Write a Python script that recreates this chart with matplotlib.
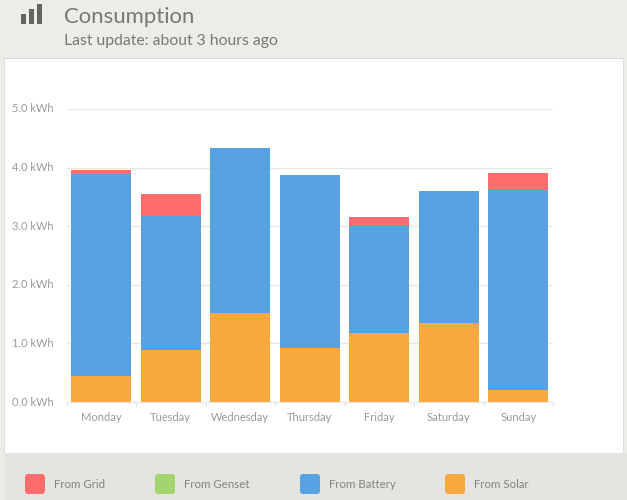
import matplotlib
matplotlib.use('Agg')
import matplotlib.pyplot as plt
from matplotlib.patches import Rectangle, FancyBboxPatch
from matplotlib.transforms import ScaledTranslation
import numpy as np

days = ['Monday', 'Tuesday', 'Wednesday', 'Thursday', 'Friday', 'Saturday', 'Sunday']
from_solar = [0.44, 0.89, 1.52, 0.92, 1.18, 1.35, 0.20]
from_battery = [3.45, 2.28, 2.81, 2.95, 1.82, 2.25, 3.41]
from_genset = [0, 0, 0, 0, 0, 0, 0]
from_grid = [0.07, 0.38, 0, 0, 0.16, 0, 0.30]
y_ticks = [0, 1, 2, 3, 4, 5]
legend_names = ['From Grid', 'From Genset', 'From Battery', 'From Solar']
legend_colors = ['#fe6d6d', '#a2d470', '#58a2e1', '#f8a93e']

W, H = 627, 500
plt.rcParams['font.family'] = ['Lato', 'DejaVu Sans']

fig = plt.figure(figsize=(W / 100, H / 100), dpi=100, facecolor='#eeece9')


def px_rect(x0, y0, x1, y1, **kw):
    # pixel coords, y from the top
    r = Rectangle((x0 / W, 1 - y1 / H), (x1 - x0) / W, (y1 - y0) / H,
                  transform=fig.transFigure, **kw)
    fig.add_artist(r)


def px_text(x, y, s, **kw):
    fig.text(x / W, 1 - y / H, s, va='center', **kw)


# panels
px_rect(4, 57.5, 624, 454, facecolor='#dddbd8', edgecolor='none', zorder=0)
px_rect(5, 58.5, 623, 453, facecolor='white', edgecolor='none', zorder=0)
px_rect(5, 453, 627, 500, facecolor='#e5e4e1', edgecolor='none', zorder=0)

# header
px_rect(21, 14, 26, 24, facecolor='#66645f', edgecolor='none')
px_rect(28.5, 9, 33.5, 24, facecolor='#66645f', edgecolor='none')
px_rect(37, 4, 42, 24, facecolor='#66645f', edgecolor='none')
px_text(64, 17, 'Consumption', fontsize=15.9, color='#7a7874')
px_text(64, 41.5, 'Last update: about 3 hours ago', fontsize=11.3, color='#7a7874')

# chart
ax = fig.add_axes([66.5 / W, 1 - 402 / H, (553 - 66.5) / W, (402 - 109) / H])
ax.patch.set_alpha(0)
x = np.arange(len(days))
bottom = np.zeros(len(days))
for vals, col in [(from_solar, legend_colors[3]), (from_battery, legend_colors[2]),
                  (from_genset, legend_colors[1]), (from_grid, legend_colors[0])]:
    ax.bar(x, vals, width=0.862, bottom=bottom, color=col, zorder=3)
    bottom = bottom + np.array(vals)

ax.set_xlim(-0.5, 6.5)
ax.set_ylim(0, 5)
ax.set_yticks(y_ticks)
ax.set_yticklabels(['%.1f kWh' % v for v in y_ticks], fontsize=7.9, color='#999999')
ax.set_xticks(x)
ax.set_xticklabels(days, fontsize=8, color='#999999')
ax.set_xticks(np.arange(-0.5, 7, 1), minor=True)
ax.tick_params(axis='x', which='major', length=0, pad=7)
ax.tick_params(axis='x', which='minor', length=3, color='#e3e6ea', width=1)
ax.tick_params(axis='y', length=0, pad=9)
# y labels sit a pixel above their gridline
for lab in ax.get_yticklabels():
    lab.set_verticalalignment('center_baseline')
    lab.set_transform(lab.get_transform() + ScaledTranslation(0, 1 / 100, fig.dpi_scale_trans))
ax.grid(axis='y', color='#e6e6e6', lw=1, zorder=0)
for s in ['top', 'right', 'left']:
    ax.spines[s].set_visible(False)
ax.spines['bottom'].set_color('#e3e6ea')
ax.spines['bottom'].set_zorder(4)

# legend
for x0, name, col in zip([25, 155, 300, 445], legend_names, legend_colors):
    box = FancyBboxPatch((x0 + 2, H - 494 + 2), 16, 16, boxstyle='round,pad=2,rounding_size=3',
                         transform=None, facecolor=col, edgecolor='none')
    fig.add_artist(box)
    px_text(x0 + 29, 484, name, fontsize=8.3, color='#85837e')

fig.savefig('out.png', dpi=100, facecolor=fig.get_facecolor())
